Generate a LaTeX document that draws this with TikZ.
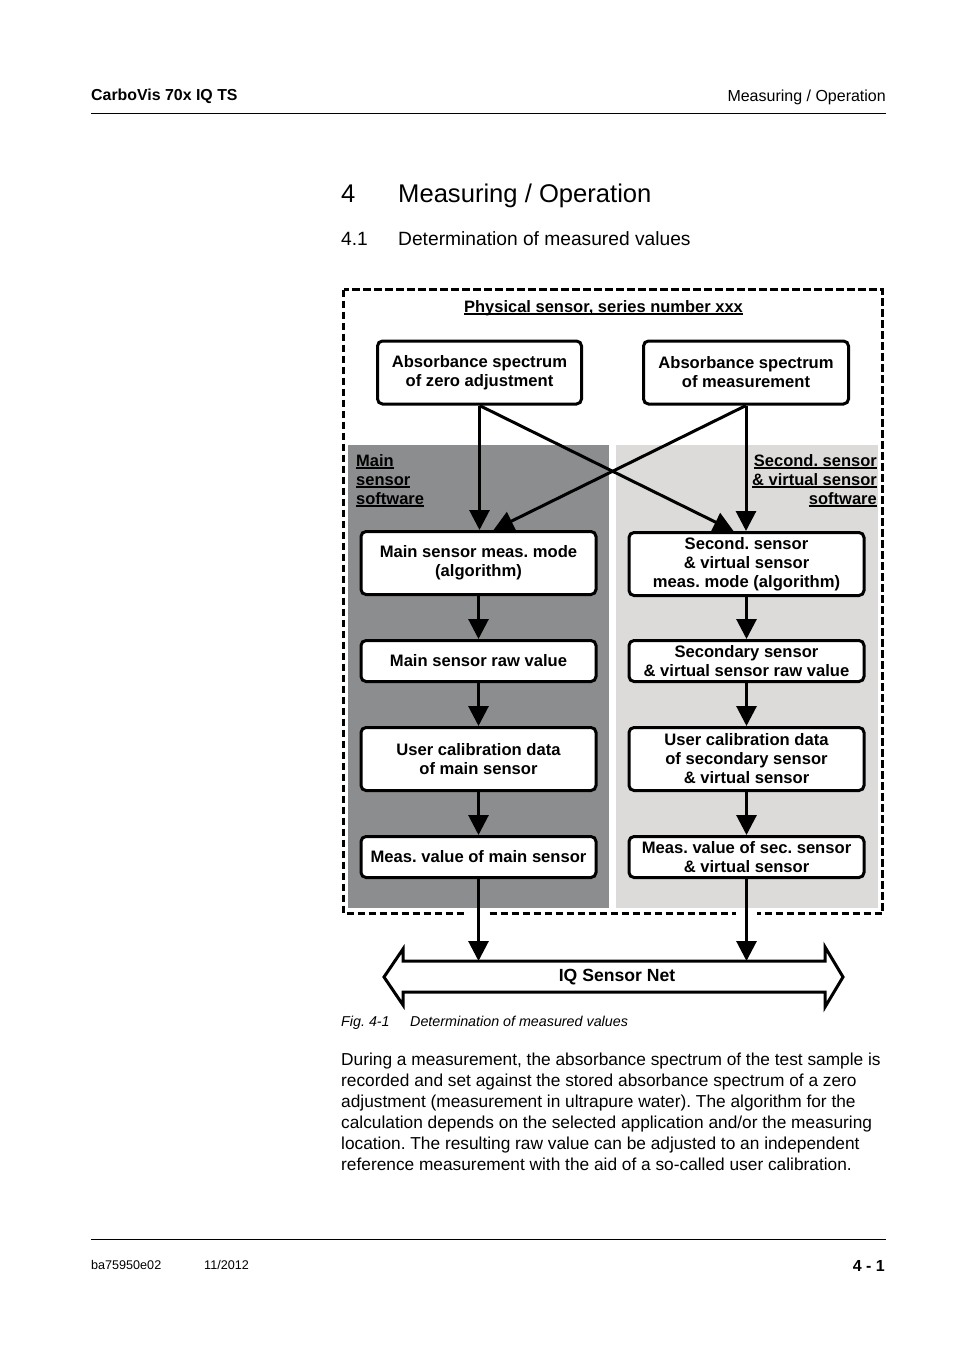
\documentclass[tikz,border=0pt]{standalone}
\usepackage{fontspec}
\setmainfont{Liberation Sans}
\usetikzlibrary{arrows.meta,calc}
\frenchspacing
\newcommand\fsz[2]{\fontsize{#1}{#2}\selectfont}
\newcommand\myul[1]{\setbox0\hbox{#1}\rlap{\rule[-2.6pt]{\wd0}{1.5pt}}\box0}
\definecolor{darkpanel}{RGB}{140,141,143}
\definecolor{lightpanel}{RGB}{220,219,218}
\begin{document}
\begin{tikzpicture}[x=1pt,y=-1pt,
  box/.style={draw, line width=3pt, rounded corners=5pt, fill=white, align=center,
    font=\bfseries\fsz{16.6}{19}, inner sep=0pt},
  tallbox/.style={box, minimum width=235pt, minimum height=63pt},
  flatbox/.style={box, minimum width=235pt, minimum height=41pt},
  arr/.style={line width=3pt, -{Triangle[width=20pt,length=20pt]}},
  lbl/.style={font=\bfseries\fsz{16.5}{19}, inner sep=0pt},
  txt/.style={inner sep=0pt}]
\useasboundingbox (0,0) rectangle (954,1351);
\fill[white] (0,0) rectangle (954,1351);

% header and footer
\node[txt, anchor=base west, font=\bfseries\fsz{15.9}{18}] (hl) at (91,101) {CarboVis 70x IQ TS};
\node[txt, anchor=base east, font=\fsz{16}{18}] (hr) at (886,102) {Measuring / Operation};
\draw[line width=1pt] (91,114) -- (886,114);
\draw[line width=1pt] (91,1239) -- (886,1239);
\node[txt, anchor=base west, font=\fsz{12.6}{15}] (fl) at (91,1269) {ba75950e02};
\node[txt, anchor=base west, font=\fsz{12.6}{15}] (fd) at (204,1269) {11/2012};
\node[txt, anchor=base east, font=\bfseries\fsz{16}{18}] (fr) at (885,1271) {4 - 1};

% titles
\node[txt, anchor=base west, font=\fsz{25.6}{30}] (t1n) at (341,202) {4};
\node[txt, anchor=base west, font=\fsz{25.6}{30}] (t1) at (398,202) {Measuring / Operation};
\node[txt, anchor=base west, font=\fsz{19.2}{23}] (t2n) at (341,245) {4.1};
\node[txt, anchor=base west, font=\fsz{19.2}{23}] (t2) at (398,245) {Determination of measured values};

% outer dashed frame and panels
\draw[line width=3pt, dash pattern=on 7.5pt off 3.5pt] (343.5,289.5) rectangle (882.5,913.5);
\fill[darkpanel] (348,445) rectangle (609,908);
\fill[lightpanel] (616,445) rectangle (878,908);

\node[lbl, anchor=base] (phys) at (603.5,312) {\myul{Physical sensor, series number xxx}};

\node[lbl, anchor=base west] (ms1) at (356,466) {\myul{Main}};
\node[lbl, anchor=base west] (ms2) at (356,485) {\myul{sensor}};
\node[lbl, anchor=base west] (ms3) at (356,504) {\myul{software}};
\node[lbl, anchor=base east] (ss1) at (877,466) {\myul{Second. sensor}};
\node[lbl, anchor=base east] (ss2) at (877,485) {\myul{\& virtual sensor}};
\node[lbl, anchor=base east] (ss3) at (877,504) {\myul{software}};

% boxes
\node[box, minimum width=204pt, minimum height=63pt] (A) at (479.5,372.5) {Absorbance spectrum\\of zero adjustment};
\node[box, minimum width=205pt, minimum height=63pt] (B) at (746,372.5) {Absorbance spectrum\\of measurement};
\node[tallbox] (C) at (478.5,563) {Main sensor meas. mode\\(algorithm)};
\node[tallbox] (D) at (746.5,564) {Second. sensor\\\& virtual sensor\\meas. mode (algorithm)};
\node[flatbox] (E) at (478.5,661) {Main sensor raw value};
\node[flatbox] (F) at (746.5,661) {Secondary sensor\\\& virtual sensor raw value};
\node[tallbox] (G) at (478.5,759) {User calibration data\\of main sensor};
\node[tallbox] (H) at (746.5,759) {User calibration data\\of secondary sensor\\\& virtual sensor};
\node[flatbox] (I) at (478.5,857) {Meas. value of main sensor};
\node[flatbox] (J) at (746.5,857) {Meas. value of sec. sensor\\\& virtual sensor};

% arrows
\draw[arr] (A.south) -- (A.south |- C.north);
\draw[arr] (A.south) -- ($(D.north)+(-13,0)$);
\draw[arr] (B.south) -- ($(C.north)+(15,0)$);
\draw[arr] (B.south) -- (B.south |- D.north);
\draw[arr] (C.south) -- (E.north);
\draw[arr] (D.south) -- (F.north);
\draw[arr] (E.south) -- (G.north);
\draw[arr] (F.south) -- (H.north);
\draw[arr] (G.south) -- (I.north);
\draw[arr] (H.south) -- (J.north);

% gaps in the dashed frame where the outputs leave
\fill[white] (468,909.5) rectangle (489,918);
\fill[white] (736,909.5) rectangle (757,918);

% bus
\draw[line width=3pt, line join=miter, fill=white]
  (403,961) -- (825,961) -- (825,947) -- (843,977) -- (825,1007) -- (825,992)
  -- (403,992) -- (403,1005) -- (384,977) -- (403,949) -- cycle;
\node[lbl, font=\bfseries\fsz{17.6}{20}] (bus) at (617,977) {IQ Sensor Net};
\coordinate (bustop) at (617,961);
\draw[arr] (I.south) -- (I.south |- bustop);
\draw[arr] (J.south) -- (J.south |- bustop);

% caption
\node[txt, anchor=base west, font=\itshape\fsz{14.3}{17}] (capn) at (341,1026) {Fig. 4-1};
\node[txt, anchor=base west, font=\itshape\fsz{14.3}{17}] (cap) at (410,1026) {Determination of measured values};

% body
\node[txt, anchor=north west, align=left, font=\fsz{17.3}{21}] (body) at (341,1052.7)
{During a measurement, the absorbance spectrum of the test sample is\\
recorded and set against the stored absorbance spectrum of a zero\\
adjustment (measurement in ultrapure water). The algorithm for the\\
calculation depends on the selected application and/or the measuring\\
location. The resulting raw value can be adjusted to an independent\\
reference measurement with the aid of a so-called user calibration.};
\end{tikzpicture}
\end{document}
